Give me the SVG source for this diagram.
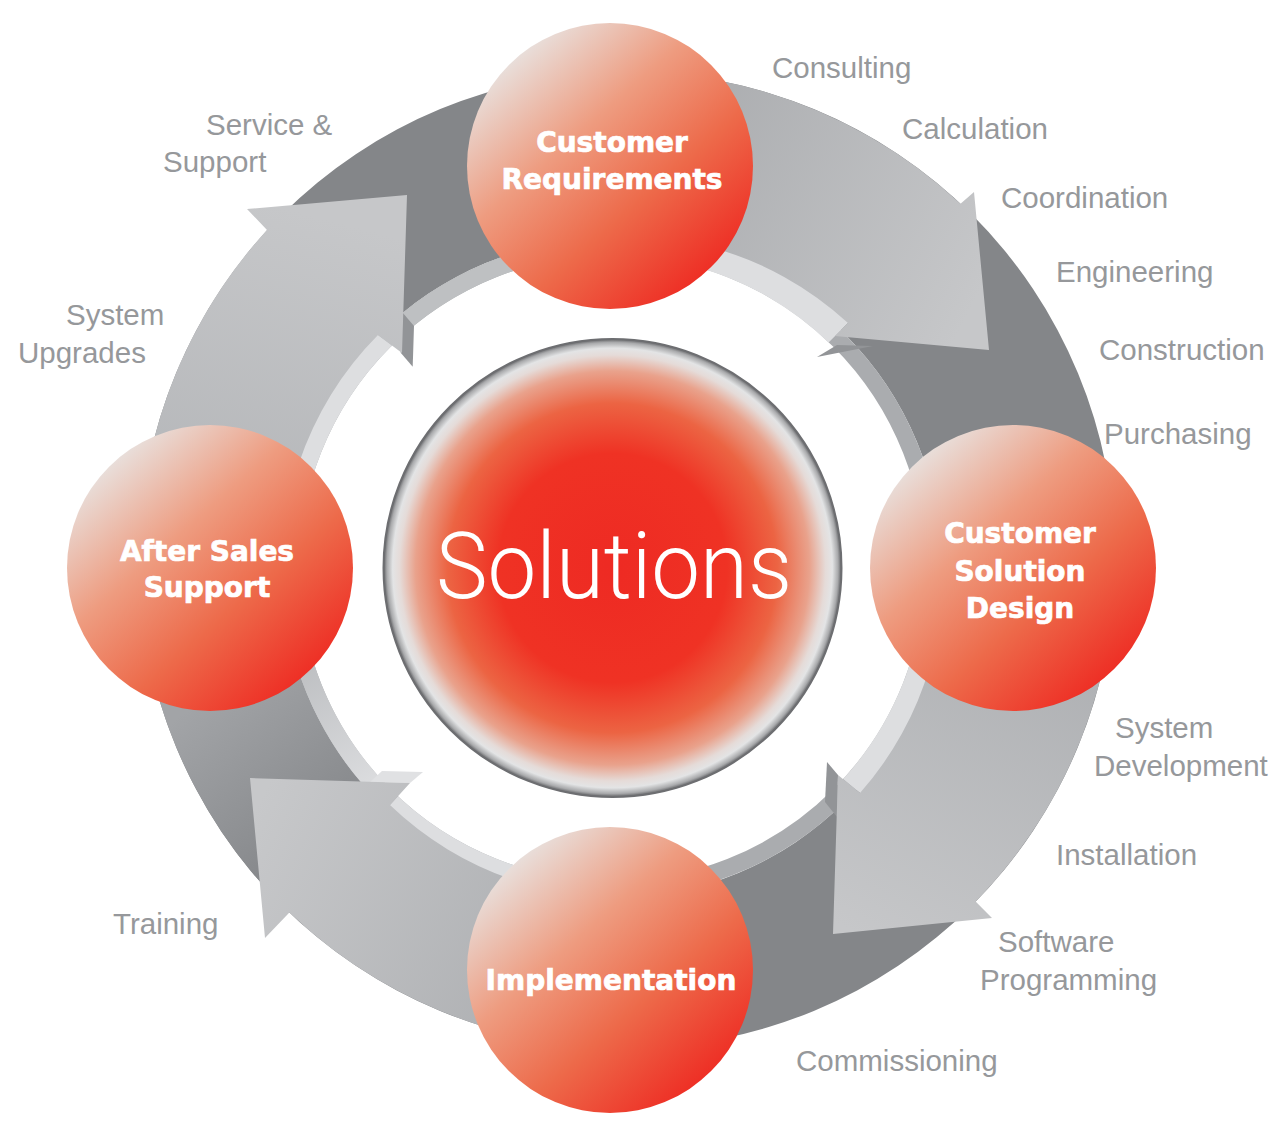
<svg xmlns="http://www.w3.org/2000/svg" width="1288" height="1124" viewBox="0 0 1288 1124">
<defs>
<style>
.lbl{font-family:"Liberation Sans",Arial,sans-serif;font-size:29.5px;fill:#96989b;}
.nt{font-family:"DejaVu Sans","Liberation Sans",sans-serif;font-weight:bold;font-size:28px;fill:#ffffff;stroke:#ffffff;stroke-width:0.7px;text-anchor:middle;}
.node{fill:url(#nodeG);}
.strip{fill:#dddee0;}
.fold{fill:#929497;}
</style>
<linearGradient id="nodeG" x1="0.15" y1="0.1" x2="0.85" y2="0.9">
<stop offset="0" stop-color="#e8e4e2"/>
<stop offset="0.35" stop-color="#ee9c80"/>
<stop offset="0.65" stop-color="#ed6a4a"/>
<stop offset="1" stop-color="#ee2a22"/>
</linearGradient>
<radialGradient id="centerG" cx="0.5" cy="0.5" r="0.5">
<stop offset="0" stop-color="#ee2a23"/>
<stop offset="0.5" stop-color="#ef3224"/>
<stop offset="0.72" stop-color="#ec6443"/>
<stop offset="0.86" stop-color="#e9a28c"/>
<stop offset="0.93" stop-color="#e5dbd8"/>
<stop offset="0.96" stop-color="#e3e4e5"/>
<stop offset="0.985" stop-color="#a9aaac"/>
<stop offset="1" stop-color="#606164"/>
</radialGradient>
<linearGradient id="gTR" gradientUnits="userSpaceOnUse" x1="560" y1="120" x2="960" y2="330">
<stop offset="0" stop-color="#a3a5a8"/>
<stop offset="1" stop-color="#c6c7c9"/>
</linearGradient>
<linearGradient id="gBR" gradientUnits="userSpaceOnUse" x1="1060" y1="540" x2="850" y2="930">
<stop offset="0" stop-color="#a9abae"/>
<stop offset="1" stop-color="#c6c7c9"/>
</linearGradient>
<linearGradient id="gBL" gradientUnits="userSpaceOnUse" x1="660" y1="1000" x2="260" y2="800">
<stop offset="0" stop-color="#a6a8ab"/>
<stop offset="1" stop-color="#c7c8ca"/>
</linearGradient>
<linearGradient id="gTL" gradientUnits="userSpaceOnUse" x1="230" y1="600" x2="330" y2="220">
<stop offset="0" stop-color="#b0b2b5"/>
<stop offset="1" stop-color="#c6c7c9"/>
</linearGradient>
<linearGradient id="gLBstrip" gradientUnits="userSpaceOnUse" x1="390" y1="800" x2="290" y2="615">
<stop offset="0" stop-color="#e0e1e3"/>
<stop offset="1" stop-color="#b3b5b8"/>
</linearGradient>
<linearGradient id="gLBdark" gradientUnits="userSpaceOnUse" x1="200" y1="700" x2="320" y2="850">
<stop offset="0" stop-color="#a2a4a7"/>
<stop offset="1" stop-color="#85878a"/>
</linearGradient>
</defs>
<rect width="1288" height="1124" fill="#ffffff"/>

<g id="connectors">
<path fill="#848689" fill-rule="evenodd" d="M627 72 A488 488 0 1 1 627 1048 A488 488 0 1 1 627 72 Z M612 238 A330 330 0 1 0 612 898 A330 330 0 1 0 612 238 Z"/>
<path fill="url(#gLBdark)" d="M289.4 912.4 A488 488 0 0 1 143.7 627.9 L285.2 613.9 A330 330 0 0 0 382.8 805.4 Z"/>
<circle cx="612" cy="568" r="321.5" fill="none" stroke="#aaacaf" stroke-width="17"/>
<path fill="url(#gLBstrip)" d="M382.8 805.4 A330 330 0 0 1 285.2 613.9 L302.05 611.56 A313 313 0 0 0 394.6 793.1 Z"/>
<path fill="#bec0c2" d="M378.7 334.7 A330 330 0 0 1 554.7 243 L557.65 259.75 A313 313 0 0 0 390.7 346.7 Z"/>
<path class="strip" d="M552.6 231.2 A342 342 0 0 1 849.3 321.7 L828.6 342.4 A313 313 0 0 0 557.65 259.75 Z"/>
<path class="strip" d="M950.7 520.4 A342 342 0 0 1 865.5 797.5 L843.1 779.1 A313 313 0 0 0 921.95 524.4 Z"/>
<path class="strip" d="M659.6 906.7 A342 342 0 0 1 378.4 817.8 L397.9 796.3 A313 313 0 0 0 655.6 877.95 Z"/>
<path class="strip" d="M273.3 615.6 A342 342 0 0 1 368.4 327.8 L391.9 345.4 A313 313 0 0 0 302.05 611.56 Z"/>
<polygon class="fold" points="817,357 837,345 873,346"/>
<polygon class="fold" points="827,762 838,775 837,817 825,802"/>
<polygon fill="#e0e1e3" points="370,782 382,771 423,772 410,783"/>
<polygon class="fold" points="402.7,312.7 414,326 412.7,366.7 400.7,352.7"/>
<path id="arrow-tr" fill="url(#gTR)" d="M542.3 79.4 A488 488 0 0 1 960.5 203.7 L974 192 L989 350 L835 336 L848 323 A330 330 0 0 0 554.7 243 Z"/>
<path id="arrow-br" fill="url(#gBR)" d="M1110.3 492.1 A488 488 0 0 1 975.6 901.5 L992 918 L833 934 L838 775 L860 793 A330 330 0 0 0 938.8 522.1 Z"/>
<path id="arrow-bl" fill="url(#gBL)" d="M694.9 1043.3 A488 488 0 0 1 289.4 912.4 L265 938 L250 778 L410 783 L390 805 A330 330 0 0 0 657.9 894.8 Z"/>
<path id="arrow-tl" fill="url(#gTL)" d="M143.7 627.9 A488 488 0 0 1 267 230 L247 209 L407 195 L402 353 L378 335 A330 330 0 0 0 285.2 613.9 Z"/>
</g>

<g id="solutions">
<circle cx="612.5" cy="568" r="229" fill="url(#centerG)" stroke="#6d6e71" stroke-width="2"/>
<text x="614" y="598" font-family="Roboto, Liberation Sans, Arial, sans-serif" font-weight="300" font-size="92" fill="#ffffff" text-anchor="middle" textLength="356" lengthAdjust="spacingAndGlyphs">Solutions</text>
</g>

<g id="customer-requirements">
<circle class="node" cx="610" cy="166" r="143"/>
<text class="nt" x="612" y="152">Customer</text>
<text class="nt" x="612" y="189">Requirements</text>
</g>

<g id="customer-solution-design">
<circle class="node" cx="1013" cy="568" r="143"/>
<text class="nt" x="1020" y="543">Customer</text>
<text class="nt" x="1020" y="581">Solution</text>
<text class="nt" x="1020" y="618">Design</text>
</g>

<g id="implementation">
<circle class="node" cx="610" cy="970" r="143"/>
<text class="nt" x="611" y="990">Implementation</text>
</g>

<g id="after-sales-support">
<circle class="node" cx="210" cy="568" r="143"/>
<text class="nt" x="207" y="561">After Sales</text>
<text class="nt" x="207" y="597">Support</text>
</g>

<g id="labels">
<text class="lbl" x="772" y="78">Consulting</text>
<text class="lbl" x="902" y="139">Calculation</text>
<text class="lbl" x="1001" y="208">Coordination</text>
<text class="lbl" x="1056" y="282">Engineering</text>
<text class="lbl" x="1099" y="360">Construction</text>
<text class="lbl" x="1104" y="444">Purchasing</text>
<text class="lbl" x="1115" y="738">System</text>
<text class="lbl" x="1094" y="776">Development</text>
<text class="lbl" x="1056" y="865">Installation</text>
<text class="lbl" x="998" y="952">Software</text>
<text class="lbl" x="980" y="990">Programming</text>
<text class="lbl" x="796" y="1071">Commissioning</text>
<text class="lbl" x="113" y="934">Training</text>
<text class="lbl" x="66" y="325">System</text>
<text class="lbl" x="18" y="363">Upgrades</text>
<text class="lbl" x="206" y="135">Service &amp;</text>
<text class="lbl" x="163" y="172">Support</text>
</g>
</svg>
